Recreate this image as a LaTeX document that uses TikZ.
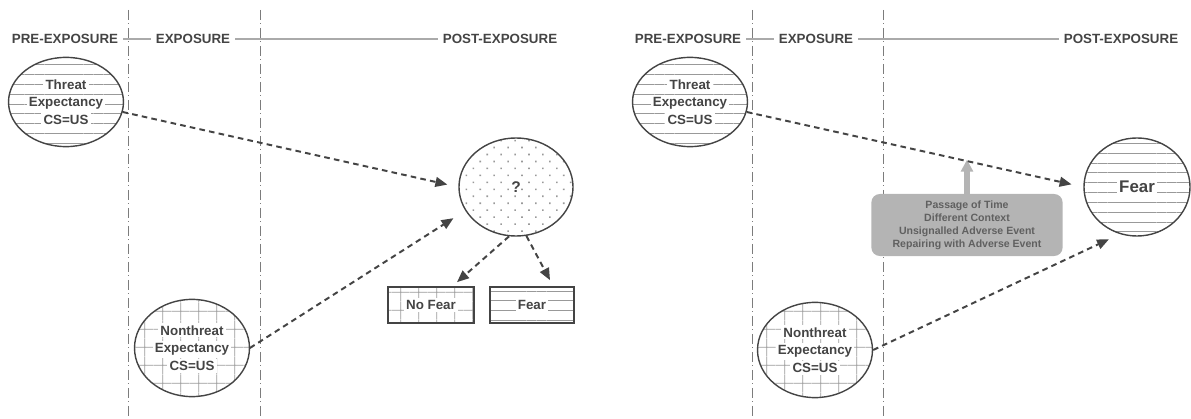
\documentclass[tikz,border=0pt]{standalone}
\usepackage{fontspec}
\setmainfont{Liberation Sans}
\usetikzlibrary{shapes.geometric,arrows.meta,patterns.meta}
\definecolor{ink}{HTML}{444444}
\definecolor{hatch}{HTML}{999999}
\definecolor{rulegray}{HTML}{AAAAAA}
\definecolor{boxgray}{HTML}{B4B4B4}
\newcommand\wb[1]{{\setlength\fboxsep{1.5pt}\colorbox{white}{#1}}}
\begin{document}
\begin{tikzpicture}[
            x=0.025cm, y=-0.025cm,
            every node/.style={text=ink, inner sep=1pt, font=\bfseries\fontsize{9.5}{12.5}\selectfont},
            phaseline/.style={draw=ink!70, line width=0.6pt, dash pattern=on 7pt off 2.5pt on 0.8pt off 2.5pt},
            rule/.style={draw=rulegray, line width=1.2pt, shorten <=2.5pt, shorten >=2.5pt},
            expect/.style={ellipse, draw=ink, line width=1pt, align=center, minimum width=2.85cm},
            outcome/.style={rectangle, draw=ink, line width=1.2pt, minimum height=0.9cm},
            hlines/.style={pattern={Lines[distance=7pt, line width=0.7pt]}, pattern color=hatch},
            gridfill/.style={pattern={Hatch[angle=0, distance=13pt, line width=0.6pt]}, pattern color=hatch},
            dotfill/.style={pattern={Dots[angle=45, distance=7pt, radius=0.8pt]}, pattern color=hatch},
            flow/.style={draw=ink, line width=1.4pt, dash pattern=on 4pt off 3pt, -{Triangle[length=8.5pt, width=7pt]}},
            cond/.style={rectangle, rounded corners=6pt, fill=boxgray, text=ink!85, align=center,
                minimum width=4.78cm, minimum height=1.55cm, font=\bfseries\fontsize{7.5}{9.3}\selectfont},
            lift/.style={draw=boxgray, line width=4.3pt, -{Triangle[length=8.5pt, width=8.5pt]}}
            ]
        \useasboundingbox (0,0) rectangle (1191,419);
        % phase boundaries
        \foreach \x in {128, 260, 752, 883}
            \draw[phaseline] (\x,10) -- (\x,419);
        % left panel
        \node (pre1) at (65,39) {PRE-EXPOSURE};
        \node (exp1) at (193,39) {EXPOSURE};
        \node (post1) at (500,39) {POST-EXPOSURE};
        \draw[rule] (pre1.east) -- (exp1.west);
        \draw[rule] (exp1.east) -- (post1.west);
        \node[expect, hlines, minimum height=2.23cm] (thr1) at (66,102) {\wb{Threat}\\\wb{Expectancy}\\\wb{CS=US}};
        \node[expect, gridfill, minimum height=2.43cm] (nthr1) at (192,348) {\wb{Nonthreat}\\\wb{Expectancy}\\\wb{CS=US}};
        \node[expect, dotfill, minimum height=2.45cm, font=\bfseries\fontsize{11}{13}\selectfont] (q) at (516,187) {?};
        \node[outcome, gridfill, minimum width=2.15cm] (nofear) at (431,305) {\wb{No Fear}};
        \node[outcome, hlines, minimum width=2.1cm] (fear1) at (532,305) {\wb{Fear}};
        \draw[flow, shorten >=0.28cm] (thr1.-10) -- (q.west);
        \draw[flow, shorten >=0.35cm] (nthr1.east) -- (q.205);
        \draw[flow] (q.262) -- ([xshift=0.65cm, yshift=0.1cm]nofear.north);
        \draw[flow] (q.282) -- ([xshift=0.45cm, yshift=0.15cm]fear1.north);
        % right panel
        \node (pre2) at (688,39) {PRE-EXPOSURE};
        \node (exp2) at (816,39) {EXPOSURE};
        \node (post2) at (1121,39) {POST-EXPOSURE};
        \draw[rule] (pre2.east) -- (exp2.west);
        \draw[rule] (exp2.east) -- (post2.west);
        \node[expect, hlines, minimum height=2.23cm] (thr2) at (690,102) {\wb{Threat}\\\wb{Expectancy}\\\wb{CS=US}};
        \node[expect, gridfill, minimum height=2.38cm] (nthr2) at (815,350) {\wb{Nonthreat}\\\wb{Expectancy}\\\wb{CS=US}};
        \node[expect, hlines, minimum width=2.65cm, minimum height=2.45cm, font=\bfseries\fontsize{12}{14}\selectfont] (fear2) at (1137,187) {\wb{Fear}};
        \node[cond] (renew) at (967,225) {Passage of Time\\Different Context\\Unsignalled Adverse Event\\Repairing with Adverse Event};
        \draw[lift] (renew.north) -- ++(0,-34);
        \draw[flow, shorten >=0.3cm] (thr2.-10) -- (fear2.west);
        \draw[flow, shorten >=0.3cm] (nthr2.east) -- (fear2.250);
\end{tikzpicture}
\end{document}
